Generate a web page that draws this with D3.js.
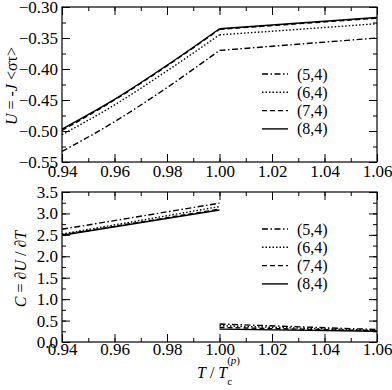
<!DOCTYPE html>
<html><head><meta charset="utf-8">
<script src="https://cdn.jsdelivr.net/npm/d3@7"></script>
<style>
body{margin:0;background:#fff;}
</style></head><body>
<svg id="c" width="392" height="390"></svg>
<script>
const seriesNames = ["(5,4)", "(6,4)", "(7,4)", "(8,4)"];
const dashes = ["6,2.5,1.5,2.5", "1.5,2", "5,3", null];
const xBelow = [0.94, 0.96, 0.98, 1.00];
const xAbove = [1.00, 1.06];
// top panel: U
const uBelow = [
  [-0.533, -0.485, -0.430, -0.370],
  [-0.506, -0.458, -0.403, -0.345],
  [-0.499, -0.450, -0.395, -0.336],
  [-0.497, -0.449, -0.394, -0.335]
];
const uAbove = [
  [-0.370, -0.350],
  [-0.345, -0.327],
  [-0.336, -0.318],
  [-0.335, -0.317]
];
// bottom panel: C
const cBelowX = [0.94, 1.00];
const cBelow = [
  [2.63, 3.24],
  [2.52, 3.16],
  [2.50, 3.10],
  [2.49, 3.08]
];
const cAbove = [
  [0.42, 0.29],
  [0.38, 0.27],
  [0.34, 0.26],
  [0.30, 0.25]
];
const xTicks = [0.94, 0.96, 0.98, 1.00, 1.02, 1.04, 1.06];
const uTicks = [-0.30, -0.35, -0.40, -0.45, -0.50, -0.55];
const cTicks = [0.0, 0.5, 1.0, 1.5, 2.0, 2.5, 3.0, 3.5];

const FONT = '"Liberation Serif", "Times New Roman", serif';
const svg = d3.select("#c");
const L = 62, R = 377;
const x = d3.scaleLinear().domain([0.94, 1.06]).range([L, R]);
const yU = d3.scaleLinear().domain([-0.55, -0.30]).range([162, 7]);
const yC = d3.scaleLinear().domain([0, 3.5]).range([342, 192]);

const xMinor = d3.range(0, 13).map(i => 0.94 + i * 0.01);

function panel(y, yTicks, yMinor, yFmt, top, bot, xPad) {
  const g = svg.append("g");
  const styleAxis = sel => {
    sel.attr("font-family", null).attr("font-size", null);
    sel.select(".domain").remove();
    sel.selectAll("line").attr("stroke", "#000").attr("stroke-width", 1);
    sel.selectAll("text").attr("font-size", 17).attr("fill", "#000").style("font-family", FONT);
  };
  g.append("g").attr("transform", `translate(0,${bot})`)
    .call(d3.axisBottom(x).tickValues(xTicks).tickFormat(d3.format(".2f")).tickSize(-8).tickPadding(xPad)).call(styleAxis);
  g.append("g").attr("transform", `translate(0,${bot})`)
    .call(d3.axisBottom(x).tickValues(xMinor).tickFormat("").tickSize(-4)).call(styleAxis);
  g.append("g").attr("transform", `translate(0,${top})`)
    .call(d3.axisTop(x).tickValues(xTicks).tickFormat("").tickSize(-8)).call(styleAxis);
  g.append("g").attr("transform", `translate(0,${top})`)
    .call(d3.axisTop(x).tickValues(xMinor).tickFormat("").tickSize(-4)).call(styleAxis);
  g.append("g").attr("transform", `translate(${L},0)`)
    .call(d3.axisLeft(y).tickValues(yTicks).tickFormat(yFmt).tickSize(-8).tickPadding(4)).call(styleAxis);
  g.append("g").attr("transform", `translate(${L},0)`)
    .call(d3.axisLeft(y).tickValues(yMinor).tickFormat("").tickSize(-4)).call(styleAxis);
  g.append("g").attr("transform", `translate(${R},0)`)
    .call(d3.axisRight(y).tickValues(yTicks).tickFormat("").tickSize(-8)).call(styleAxis);
  g.append("g").attr("transform", `translate(${R},0)`)
    .call(d3.axisRight(y).tickValues(yMinor).tickFormat("").tickSize(-4)).call(styleAxis);
  g.append("rect").attr("x", L).attr("y", top).attr("width", R - L).attr("height", bot - top)
    .attr("fill", "none").attr("stroke", "#000").attr("stroke-width", 1.2);
}

const uMinor = d3.range(0, 11).map(i => -0.55 + i * 0.025);
const cMinor = d3.range(0, 15).map(i => i * 0.25);
panel(yU, uTicks, uMinor, d3.format(".2f"), 7, 162, 3);
panel(yC, cTicks, cMinor, d3.format(".1f"), 192, 342, 1);

function drawLines(y, xs, data, curve) {
  data.forEach((vals, i) => {
    const line = d3.line().x((d, j) => x(xs[j])).y(d => y(d)).curve(curve);
    svg.append("path").attr("d", line(vals)).attr("fill", "none").attr("stroke", "#000")
      .attr("stroke-width", 1.4).attr("stroke-dasharray", dashes[i]);
  });
}
drawLines(yU, xBelow, uBelow, d3.curveMonotoneX);
drawLines(yU, xAbove, uAbove, d3.curveLinear);
drawLines(yC, cBelowX, cBelow, d3.curveLinear);
drawLines(yC, xAbove, cAbove, d3.curveLinear);

function legend(y0) {
  seriesNames.forEach((n, i) => {
    const yy = y0 + i * 18.3;
    svg.append("line").attr("x1", 262).attr("x2", 288).attr("y1", yy).attr("y2", yy)
      .attr("stroke", "#000").attr("stroke-width", 1.4).attr("stroke-dasharray", dashes[i]);
    svg.append("text").attr("x", 297).attr("y", yy + 5.5).attr("font-size", 16)
      .style("font-family", FONT).text(n);
  });
}
legend(74);
legend(229);

const yl1 = svg.append("text").attr("transform", "translate(17,86) rotate(-90)")
  .attr("text-anchor", "middle").attr("font-size", 16).style("font-family", FONT);
yl1.append("tspan").attr("font-style", "italic").text("U");
yl1.append("tspan").text(" = -");
yl1.append("tspan").attr("font-style", "italic").text("J");
yl1.append("tspan").text(" <στ>");

const yl2 = svg.append("text").attr("transform", "translate(26,269) rotate(-90)")
  .attr("text-anchor", "middle").attr("font-size", 16).style("font-family", FONT);
yl2.append("tspan").attr("font-style", "italic").text("C");
yl2.append("tspan").text(" = ∂");
yl2.append("tspan").attr("font-style", "italic").text("U");
yl2.append("tspan").text(" / ∂");
yl2.append("tspan").attr("font-style", "italic").text("T");

const xl = svg.append("text").attr("x", 197).attr("y", 378).attr("font-size", 16).style("font-family", FONT);
xl.append("tspan").attr("font-style", "italic").text("T");
xl.append("tspan").text(" / ");
xl.append("tspan").attr("font-style", "italic").text("T");
xl.append("tspan").attr("font-size", 11).attr("dy", 7).text("c");
xl.append("tspan").attr("font-size", 11).attr("dx", -5).attr("dy", -21).text("(");
xl.append("tspan").attr("font-size", 11).attr("font-style", "italic").text("p");
xl.append("tspan").attr("font-size", 11).text(")");
</script>
</body></html>
